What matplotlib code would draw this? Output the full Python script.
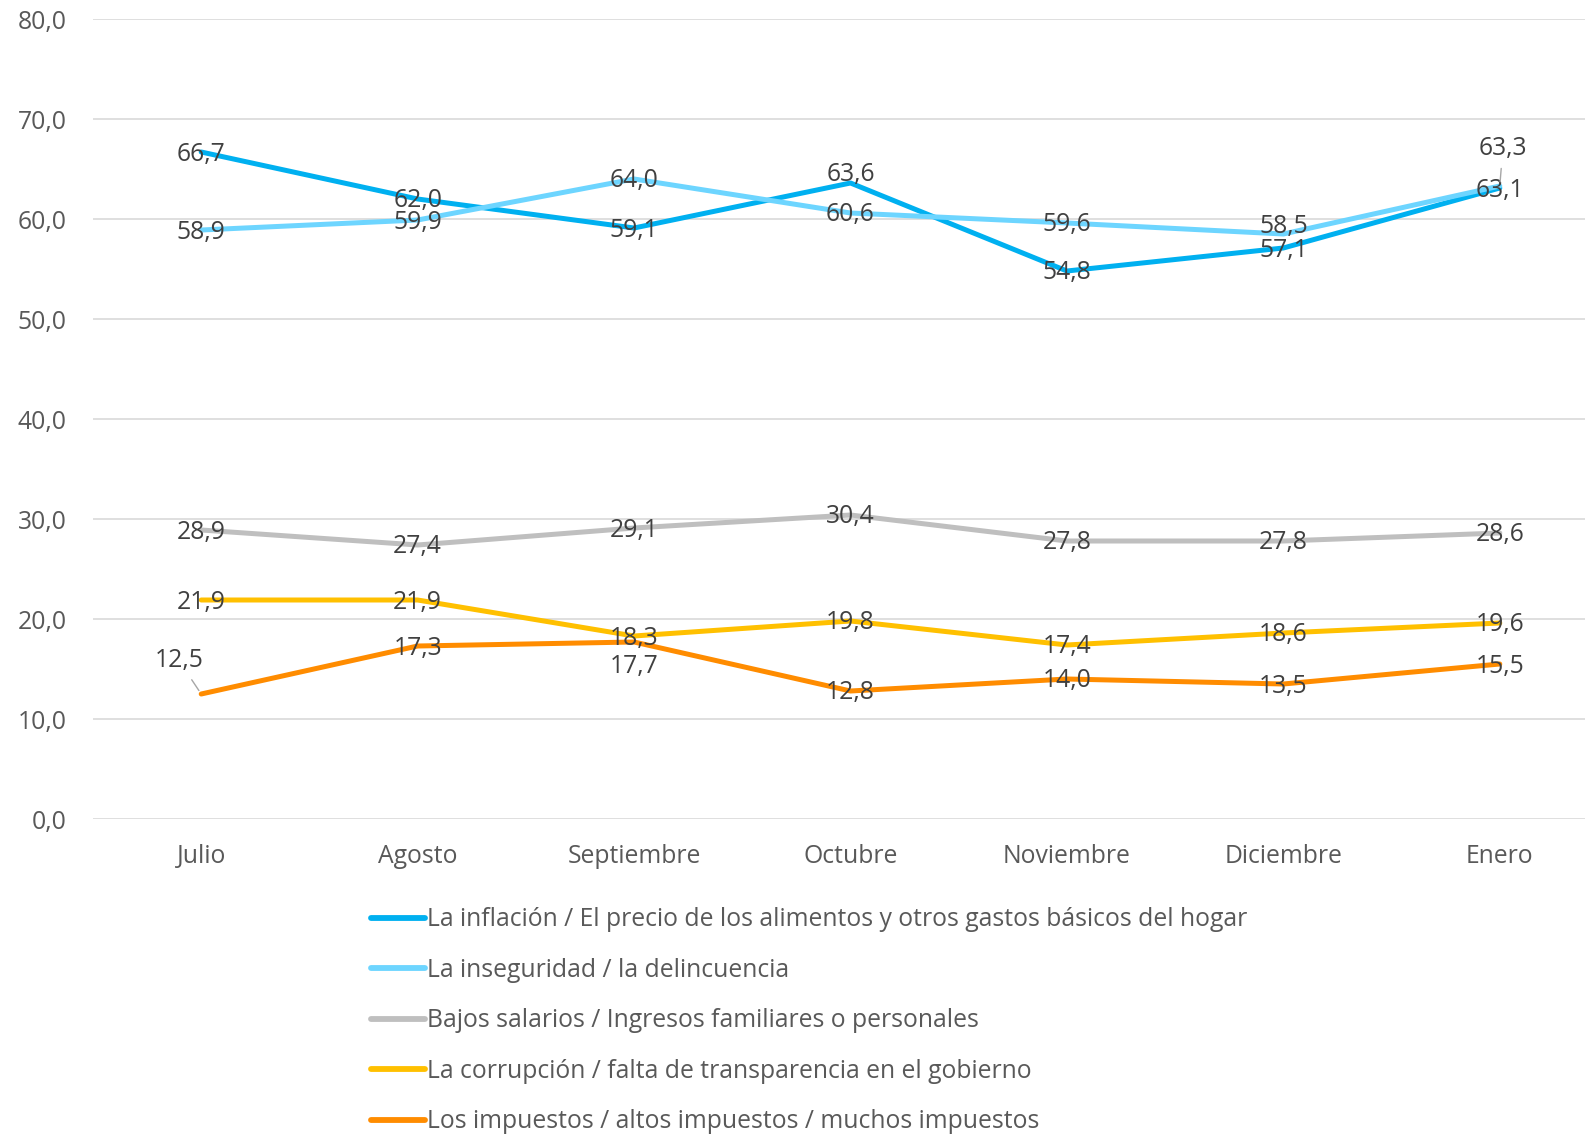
import matplotlib
matplotlib.use("Agg")
import matplotlib.pyplot as plt

months = ["Julio", "Agosto", "Septiembre", "Octubre", "Noviembre", "Diciembre", "Enero"]

inflacion = [66.7, 62.0, 59.1, 63.6, 54.8, 57.1, 63.1]
inseguridad = [58.9, 59.9, 64.0, 60.6, 59.6, 58.5, 63.3]
salarios = [28.9, 27.4, 29.1, 30.4, 27.8, 27.8, 28.6]
corrupcion = [21.9, 21.9, 18.3, 19.8, 17.4, 18.6, 19.6]
impuestos = [12.5, 17.3, 17.7, 12.8, 14.0, 13.5, 15.5]

series_names = [
    "La inflación / El precio de los alimentos y otros gastos básicos del hogar",
    "La inseguridad / la delincuencia",
    "Bajos salarios / Ingresos familiares o personales",
    "La corrupción / falta de transparencia en el gobierno",
    "Los impuestos / altos impuestos / muchos impuestos",
]
series_values = [inflacion, inseguridad, salarios, corrupcion, impuestos]
colors = ["#00B0F0", "#6DD5FF", "#BFBFBF", "#FFC000", "#FF8C00"]

# label nudges in pixels (series index, point index) -> (dx, dy, leader line)
nudges = {
    (0, 3): (0, 8, False),
    (1, 5): (0, 7, False),
    (1, 6): (3, 37, True),
    (4, 0): (-22, 33, True),
    (4, 2): (0, -24, False),
}

plt.rcParams["font.family"] = ["Open Sans", "DejaVu Sans"]
text_color = "#404040"
tick_color = "#595959"
fs = 17.8

fig = plt.figure(figsize=(15.85, 11.36), dpi=100)
ax = fig.add_axes([93 / 1585, 1 - 819 / 1136, 1515 / 1585, 800 / 1136])

x = list(range(len(months)))
for k, (name, vals, c) in enumerate(zip(series_names, series_values, colors)):
    ax.plot(x, vals, color=c, lw=3.6, solid_capstyle="round", label=name, zorder=3)

for k, vals in enumerate(series_values):
    for i, v in enumerate(vals):
        dx, dy, leader = nudges.get((k, i), (0, -2, False))
        lbl = f"{v:.1f}".replace(".", ",")
        kw = {}
        if leader:
            kw["arrowprops"] = dict(arrowstyle="-", color="#A6A6A6", lw=1,
                                    shrinkA=3, shrinkB=3)
        ax.annotate(lbl, xy=(i, v), xytext=(dx, dy), textcoords="offset pixels",
                    ha="center", va="center", fontsize=fs, color=text_color,
                    zorder=5, **kw)

ax.set_ylim(0, 80)
ax.set_xlim(-0.5, 6.5)
ax.set_yticks(range(0, 81, 10))
ax.set_yticklabels([f"{t:.1f}".replace(".", ",") for t in range(0, 81, 10)])
ax.set_xticks(x)
ax.set_xticklabels(months)
ax.tick_params(axis="both", length=0, labelsize=fs, labelcolor=tick_color)
ax.tick_params(axis="y", pad=19)
ax.tick_params(axis="x", pad=18)
ax.grid(axis="y", color="#D9D9D9", lw=1.2, zorder=0)
for s in ax.spines.values():
    s.set_visible(False)

leg = fig.legend(loc="upper left", bbox_to_anchor=(359 / 1585, 1 - 895 / 1136),
                 frameon=False, fontsize=fs, handlelength=2.15, handletextpad=0.12,
                 labelspacing=1.03, borderpad=0)
for t in leg.get_texts():
    t.set_color(tick_color)
for h in leg.get_lines():
    h.set_linewidth(4.2)

fig.savefig("out.png", dpi=100)
